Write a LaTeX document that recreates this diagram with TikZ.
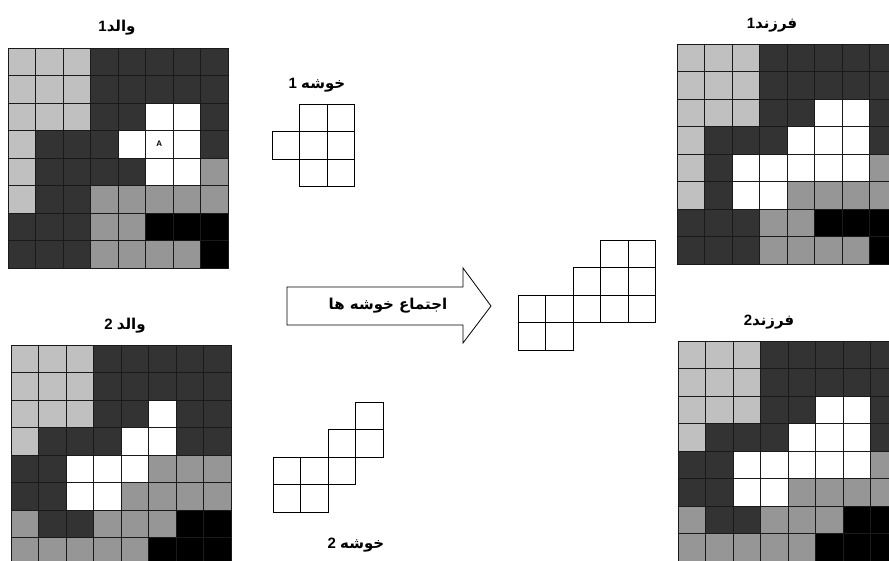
\documentclass[tikz,border=0pt]{standalone}
\usepackage{fontspec}
\setmainfont{Liberation Sans}
\newfontfamily\arabicfont[Script=Arabic]{DejaVu Sans}
\TeXXeTstate=1
\definecolor{cLgray}{HTML}{C0C0C0}
\definecolor{cDgray}{HTML}{333333}
\definecolor{cMgray}{HTML}{969696}
\definecolor{gline}{HTML}{1A1A1A}
\tikzset{
  cellL/.style={fill=cLgray,draw=gline,line width=0.9pt},
  cellD/.style={fill=cDgray,draw=gline,line width=0.9pt},
  cellM/.style={fill=cMgray,draw=gline,line width=0.9pt},
  cellB/.style={fill=black,draw=gline,line width=0.9pt},
  cellW/.style={fill=white,draw=gline,line width=0.9pt},
  clcell/.style={fill=white,draw=black,line width=0.8pt},
  lbl/.style={inner sep=0pt,font=\fontsize{15}{17}\selectfont\bfseries},
}
\newcommand\mygrid[3]{%
  \foreach \row [count=\r from 0] in {#3}{%
    \foreach \c [count=\k from 0] in \row {%
      \path[cell\c] ({#1+\k*27.5},{#2+\r*27.5}) rectangle ++(27.5,27.5);
    }%
  }%
}
\newcommand\mycluster[3]{%
  \foreach \cc/\rr in {#3}{%
    \path[clcell] ({#1+\cc*27.5},{#2+\rr*27.5}) rectangle ++(27.5,27.5);
  }%
}
\begin{document}
\begin{tikzpicture}[x=1pt,y=-1pt]
\useasboundingbox (0,0) rectangle (889,561);
\fill[white] (0,0) rectangle (889,561);
\clip (0,0) rectangle (889,561);
% parent 1
\mygrid{8}{48}{{L,L,L,D,D,D,D,D},{L,L,L,D,D,D,D,D},{L,L,L,D,D,W,W,D},{L,D,D,D,W,W,W,D},{L,D,D,D,D,W,W,M},{L,D,D,M,M,M,M,M},{D,D,D,M,M,B,B,B},{D,D,D,M,M,M,M,B}}
\node[inner sep=0pt,font=\fontsize{8}{9}\selectfont\bfseries] (A) at (159.25,144.25) {A};
% parent 2
\mygrid{11}{345}{{L,L,L,D,D,D,D,D},{L,L,L,D,D,D,D,D},{L,L,L,D,D,W,D,D},{L,D,D,D,W,W,D,D},{D,D,W,W,W,M,M,M},{D,D,W,W,M,M,M,M},{M,D,D,M,M,M,B,B},{M,M,M,M,M,B,B,B}}
% child 1
\mygrid{677}{44}{{L,L,L,D,D,D,D,D},{L,L,L,D,D,D,D,D},{L,L,L,D,D,W,W,D},{L,D,D,D,W,W,W,D},{L,D,W,W,W,W,W,M},{L,D,W,W,M,M,M,M},{D,D,D,M,M,B,B,B},{D,D,D,M,M,M,M,B}}
% child 2
\mygrid{678}{341}{{L,L,L,D,D,D,D,D},{L,L,L,D,D,D,D,D},{L,L,L,D,D,W,W,D},{L,D,D,D,W,W,W,D},{D,D,W,W,W,W,W,M},{D,D,W,W,M,M,M,M},{M,D,D,M,M,M,B,B},{M,M,M,M,M,B,B,B}}
% clusters
\mycluster{272}{104}{1/0,2/0,0/1,1/1,2/1,1/2,2/2}
\mycluster{273}{402}{3/0,2/1,3/1,0/2,1/2,2/2,0/3,1/3}
\mycluster{518}{240}{3/0,4/0,2/1,3/1,4/1,0/2,1/2,2/2,3/2,4/2,0/3,1/3}
% arrow
\draw[fill=white,line width=0.8pt] (287,287) -- (463,287) -- (463,268) -- (491,306) -- (463,343) -- (463,325) -- (287,325) -- cycle;
\node[lbl] (arrowtxt) at (388,306) {\arabicfont\beginR اجتماع خوشه ها\endR};
% labels
\node[lbl] (p1) at (117,28) {\hbox{1}\hbox{\arabicfont والد}};
\node[lbl] (p2) at (125,326) {\hbox{2 }\hbox{\arabicfont والد}};
\node[lbl] (k1) at (317,85) {\hbox{1 }\hbox{\arabicfont خوشه}};
\node[lbl] (k2) at (356,545) {\hbox{2 }\hbox{\arabicfont خوشه}};
\node[lbl] (c1) at (772,25) {\hbox{1}\hbox{\arabicfont فرزند}};
\node[lbl] (c2) at (769,322) {\hbox{2}\hbox{\arabicfont فرزند}};
\end{tikzpicture}
\end{document}
